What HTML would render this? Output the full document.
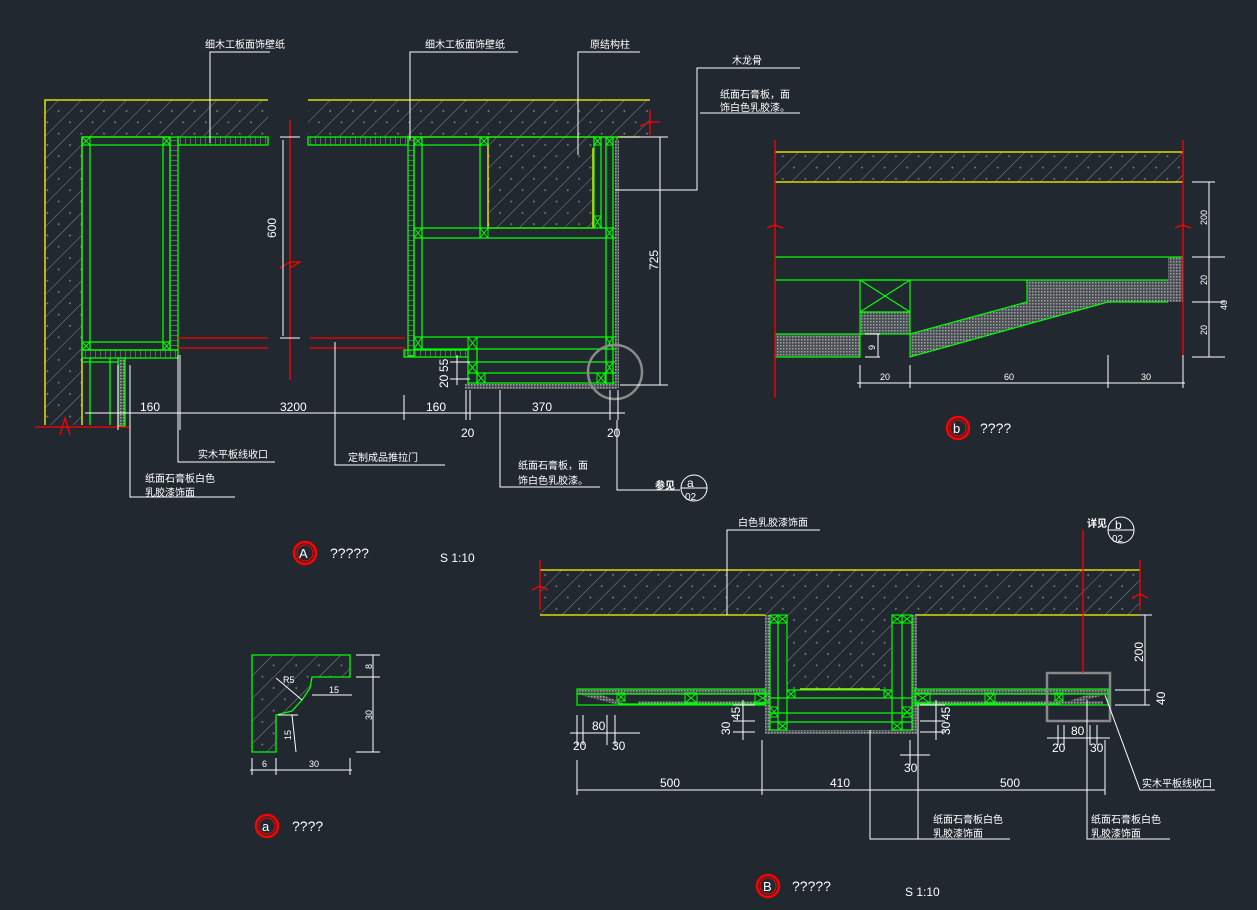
<!DOCTYPE html>
<html><head><meta charset="utf-8"><style>
html,body{margin:0;padding:0;background:#212830;}
svg{display:block}
text{font-family:"Liberation Sans","Noto Sans CJK SC",sans-serif;fill:#fff;}
</style></head><body>
<svg width="1257" height="910" viewBox="0 0 1257 910" xmlns="http://www.w3.org/2000/svg">
<defs>
<pattern id="h" width="16" height="16" patternUnits="userSpaceOnUse" patternTransform="rotate(45)">
<rect width="16" height="16" fill="#212830"/><line x1="0" y1="0" x2="0" y2="16" stroke="#80868d" stroke-width="1"/>
<circle cx="8" cy="5" r="1" fill="#777"/></pattern>
<pattern id="d" width="3" height="3" patternUnits="userSpaceOnUse"><rect width="3" height="3" fill="#4a4f55"/><rect width="1.5" height="1.5" fill="#a0a0a0"/></pattern>
<pattern id="lad" width="5" height="8" patternUnits="userSpaceOnUse"><line x1="0" y1="0" x2="0" y2="8" stroke="#999"/></pattern>
<pattern id="ladv" width="8" height="5" patternUnits="userSpaceOnUse"><line x1="0" y1="0" x2="8" y2="0" stroke="#999"/></pattern>
</defs>
<rect width="1257" height="910" fill="#212830"/>

<!-- ===== Drawing A ===== -->
<rect x="45" y="100" width="223" height="37" fill="url(#h)"/>
<rect x="45" y="100" width="37" height="325" fill="url(#h)"/>
<rect x="308" y="100" width="342" height="37" fill="url(#h)"/>
<rect x="488" y="137" width="105" height="91" fill="url(#h)"/>
<g stroke="#ffff00" fill="none" stroke-width="1.3">
<polyline points="268,100 45,100 45,425"/><line x1="308" y1="100" x2="650" y2="100"/>
<line x1="82" y1="137" x2="82" y2="425"/><line x1="82" y1="137" x2="170" y2="137"/>
<polyline points="488,137 488,228 593,228 593,148"/><line x1="408" y1="137" x2="640" y2="137"/>
</g>
<g fill="none" stroke="#00ff00" stroke-width="1.3">
<rect x="82" y="137" width="88" height="213"/><line x1="90" y1="145" x2="90" y2="350"/><line x1="163" y1="145" x2="163" y2="350"/><line x1="82" y1="145" x2="170" y2="145"/><line x1="82" y1="342" x2="170" y2="342"/>
<rect x="170" y="137" width="8" height="213" fill="url(#ladv)"/>
<rect x="178" y="137" width="90" height="8" fill="url(#lad)"/>
<rect x="308" y="137" width="100" height="8" fill="url(#lad)"/>
<rect x="82" y="350" width="96" height="8" fill="url(#lad)"/>
<line x1="82" y1="362" x2="125" y2="362"/>
<line x1="90" y1="358" x2="90" y2="425"/><line x1="110" y1="358" x2="110" y2="425"/>
<rect x="118" y="358" width="7" height="68" fill="url(#d)"/>
<rect x="408" y="137" width="6" height="219" fill="url(#ladv)"/>
<polyline points="414,356 414,137 617,137 617,387 468,387 468,356"/>
<line x1="422" y1="137" x2="422" y2="349"/><line x1="414" y1="145" x2="488" y2="145"/>
<line x1="480" y1="137" x2="480" y2="238"/>
<line x1="414" y1="228" x2="617" y2="228"/><line x1="414" y1="238" x2="617" y2="238"/>
<line x1="594" y1="137" x2="594" y2="228"/><line x1="601" y1="137" x2="601" y2="228"/>
<line x1="606" y1="137" x2="606" y2="387"/><line x1="613" y1="137" x2="613" y2="387"/>
<line x1="414" y1="337" x2="617" y2="337"/><line x1="414" y1="349" x2="617" y2="349"/>
<line x1="477" y1="349" x2="477" y2="387"/>
<line x1="468" y1="362" x2="617" y2="362"/><line x1="468" y1="373" x2="617" y2="373"/>
<line x1="468" y1="383" x2="617" y2="383"/>
<rect x="404" y="350" width="64" height="7" fill="url(#lad)"/>
</g>
<rect x="615" y="140" width="4" height="248" fill="url(#d)"/>
<rect x="465" y="384" width="152" height="5" fill="url(#d)"/>
<g stroke="#00ff00" stroke-width="1" fill="none">
<path d="M82,137h8v8h-8zM82,137l8,8M90,137l-8,8"/><path d="M163,137h7v8h-7zM163,137l7,8M170,137l-7,8"/>
<path d="M82,342h8v8h-8zM82,342l8,8M90,342l-8,8"/><path d="M163,342h7v8h-7zM163,342l7,8M170,342l-7,8"/>
<path d="M414,137h8v8h-8zM414,137l8,8M422,137l-8,8"/><path d="M480,137h8v8h-8zM480,137l8,8M488,137l-8,8"/>
<path d="M594,137h7v8h-7zM594,137l7,8M601,137l-7,8"/><path d="M606,137h7v8h-7zM606,137l7,8M613,137l-7,8"/>
<path d="M414,228h8v10h-8zM414,228l8,10M422,228l-8,10"/><path d="M480,228h8v10h-8zM480,228l8,10M488,228l-8,10"/>
<path d="M606,228h7v10h-7zM606,228l7,10M613,228l-7,10"/><path d="M594,216h7v12h-7zM594,216l7,12M601,216l-7,12"/>
<path d="M414,337h8v12h-8zM414,337l8,12M422,337l-8,12"/><path d="M468,337h9v12h-9zM468,337l9,12M477,337l-9,12"/>
<path d="M606,337h7v12h-7zM606,337l7,12M613,337l-7,12"/><path d="M468,362h9v11h-9zM468,362l9,11M477,362l-9,11"/>
<path d="M606,362h7v11h-7zM606,362l7,11M613,362l-7,11"/><path d="M477,373h8v10h-8zM477,373l8,10M485,373l-8,10"/>
<path d="M597,373h8v10h-8zM597,373l8,10M605,373l-8,10"/>
</g>
<circle cx="615" cy="372" r="27" fill="none" stroke="#8a8a8a" stroke-width="2.5"/>
<g stroke="#ff0000" stroke-width="1.3" fill="none">
<line x1="178" y1="338" x2="268" y2="338"/><line x1="178" y1="348" x2="268" y2="348"/>
<line x1="310" y1="338" x2="405" y2="338"/><line x1="310" y1="348" x2="405" y2="348"/>
<line x1="290" y1="120" x2="290" y2="380"/><polyline points="280,268 290,262 300,262 290,268"/>
<line x1="35" y1="427" x2="130" y2="427"/><polyline points="60,435 65,418 70,435"/>
<line x1="650" y1="110" x2="650" y2="135"/><polyline points="640,126 650,122 660,122"/>
</g>
<g stroke="#fff" stroke-width="1" fill="none">
<line x1="280" y1="137" x2="300" y2="137"/><line x1="280" y1="338" x2="300" y2="338"/>
<line x1="283" y1="140" x2="283" y2="336"/>
<line x1="620" y1="137" x2="668" y2="137"/><line x1="620" y1="385" x2="668" y2="385"/><line x1="660" y1="137" x2="660" y2="385"/>
<line x1="85" y1="413" x2="625" y2="413"/>
<line x1="118" y1="365" x2="118" y2="430"/><line x1="180" y1="355" x2="180" y2="430"/><line x1="404" y1="395" x2="404" y2="420"/>
<line x1="466" y1="390" x2="466" y2="420"/><line x1="470" y1="390" x2="470" y2="420"/><line x1="610" y1="390" x2="610" y2="420"/><line x1="618" y1="390" x2="618" y2="420"/>
<line x1="450" y1="362" x2="470" y2="362"/><line x1="450" y1="379" x2="470" y2="379"/><line x1="457" y1="355" x2="457" y2="385"/>
<polyline points="210,143 210,52 270,52"/><polyline points="410,140 410,52 518,52"/><polyline points="578,155 578,52 640,52"/>
<polyline points="615,190 697,190 697,68 800,68"/><line x1="700" y1="113" x2="800" y2="113"/>
<polyline points="178,355 178,462 275,462"/><polyline points="335,342 335,465 445,465"/>
<polyline points="130,365 130,497 235,497"/><polyline points="500,390 500,487 600,487"/>
<polyline points="617,420 617,490 680,490"/>
</g>
<g font-size="10">
<text x="205" y="48">细木工板面饰壁纸</text><text x="425" y="48">细木工板面饰壁纸</text><text x="590" y="48">原结构柱</text>
<text x="732" y="64">木龙骨</text><text x="720" y="98">纸面石膏板，面</text><text x="720" y="111">饰白色乳胶漆。</text>
<text x="198" y="458">实木平板线收口</text><text x="348" y="461">定制成品推拉门</text>
<text x="145" y="482">纸面石膏板白色</text><text x="145" y="496">乳胶漆饰面</text>
<text x="518" y="469">纸面石膏板，面</text><text x="518" y="484">饰白色乳胶漆。</text>
<text x="655" y="489" font-weight="bold">参见</text>
</g>
<g font-size="12">
<text x="140" y="411">160</text><text x="280" y="411">3200</text><text x="426" y="411">160</text><text x="532" y="411">370</text>
<text x="461" y="437">20</text><text x="607" y="437">20</text>
<text transform="translate(276,238) rotate(-90)">600</text><text transform="translate(658,270) rotate(-90)">725</text>
<text transform="translate(448,388) rotate(-90)">20</text><text transform="translate(448,372) rotate(-90)">55</text>
</g>
<ellipse cx="694" cy="488" rx="13" ry="13" fill="none" stroke="#fff"/><line x1="681" y1="488" x2="707" y2="488" stroke="#fff"/>
<text x="687" y="487" font-size="12">a</text><text x="685" y="500" font-size="10">02</text>

<g><circle cx="305" cy="553" r="11" fill="none" stroke="#ff0000" stroke-width="2.5"/><circle cx="305" cy="553" r="8" fill="none" stroke="#ff0000"/>
<text x="299" y="558" font-size="13">A</text><text x="330" y="558" font-size="14">?????</text><text x="440" y="562" font-size="12" font-family="Liberation Serif">S 1:10</text></g>

<!-- ===== Drawing b ===== -->
<rect x="775" y="152" width="408" height="30" fill="url(#h)"/>
<g stroke="#ffff00" stroke-width="1.3"><line x1="775" y1="152" x2="1183" y2="152"/><line x1="775" y1="182" x2="1183" y2="182"/></g>
<rect x="1168" y="257" width="15" height="45" fill="url(#d)"/>
<polygon points="1027,280 1168,280 1168,302 1108,302 910,357 910,334 1027,302" fill="url(#d)"/>
<rect x="860" y="312" width="50" height="22" fill="url(#d)"/>
<rect x="775" y="334" width="85" height="23" fill="url(#d)"/>
<g stroke="#00ff00" stroke-width="1.2" fill="none">
<line x1="775" y1="257" x2="1183" y2="257"/><line x1="775" y1="280" x2="1168" y2="280"/>
<rect x="860" y="280" width="50" height="54"/><line x1="860" y1="312" x2="910" y2="312"/>
<line x1="860" y1="280" x2="910" y2="312"/><line x1="910" y1="280" x2="860" y2="312"/>
<polyline points="775,334 860,334 860,357 775,357"/>
<polyline points="1027,280 1027,302 910,334 910,357 1108,302 1168,302"/>
</g>
<g stroke="#ff0000" stroke-width="1.3" fill="none">
<line x1="775" y1="140" x2="775" y2="398"/><polyline points="767,228 775,225 783,228"/>
<line x1="1183" y1="140" x2="1183" y2="355"/><polyline points="1175,228 1183,225 1191,228"/>
</g>
<g stroke="#fff" stroke-width="1" fill="none">
<line x1="1192" y1="182" x2="1215" y2="182"/><line x1="1192" y1="257" x2="1225" y2="257"/><line x1="1192" y1="302" x2="1225" y2="302"/><line x1="1192" y1="357" x2="1225" y2="357"/>
<line x1="1209" y1="182" x2="1209" y2="357"/>
<line x1="857" y1="383" x2="1185" y2="383"/>
<line x1="860" y1="365" x2="860" y2="388"/><line x1="910" y1="365" x2="910" y2="388"/><line x1="1108" y1="355" x2="1108" y2="388"/><line x1="1183" y1="355" x2="1183" y2="388"/>
<line x1="865" y1="334" x2="880" y2="334"/><line x1="865" y1="357" x2="880" y2="357"/><line x1="878" y1="334" x2="878" y2="357"/>
</g>
<g font-size="9">
<text transform="translate(1207,225) rotate(-90)">200</text><text transform="translate(1207,285) rotate(-90)">20</text><text transform="translate(1207,335) rotate(-90)">20</text><text transform="translate(1227,310) rotate(-90)">40</text>
<text transform="translate(875,350) rotate(-90)">9</text>
<text x="880" y="380">20</text><text x="1004" y="380">60</text><text x="1141" y="380">30</text>
</g>
<circle cx="958" cy="428" r="11" fill="none" stroke="#ff0000" stroke-width="2.5"/><circle cx="958" cy="428" r="8" fill="none" stroke="#ff0000"/>
<text x="953" y="433" font-size="13">b</text><text x="980" y="433" font-size="14">????</text>

<!-- ===== Drawing a ===== -->
<polygon points="252,655 350,655 350,677 312,677 310,688 302,700 292,711 276,715 276,752 252,752" fill="url(#h)" stroke="#00ff00" stroke-width="1.3"/>
<g stroke="#fff" stroke-width="1" fill="none">
<line x1="356" y1="655" x2="380" y2="655"/><line x1="356" y1="677" x2="380" y2="677"/><line x1="356" y1="752" x2="380" y2="752"/><line x1="373" y1="655" x2="373" y2="752"/>
<line x1="312" y1="695" x2="352" y2="695"/><line x1="292" y1="715" x2="296" y2="752"/><line x1="278" y1="715" x2="298" y2="715"/>
<line x1="250" y1="770" x2="352" y2="770"/><line x1="252" y1="758" x2="252" y2="775"/><line x1="276" y1="758" x2="276" y2="775"/><line x1="350" y1="758" x2="350" y2="775"/>
<line x1="276" y1="678" x2="302" y2="700"/>
</g>
<g font-size="9"><text x="329" y="693">15</text><text transform="translate(372,669) rotate(-90)">8</text><text transform="translate(372,720) rotate(-90)">30</text>
<text transform="translate(291,740) rotate(-90)">15</text><text x="262" y="767">6</text><text x="309" y="767">30</text><text x="283" y="683">R5</text></g>
<circle cx="267" cy="826" r="11" fill="none" stroke="#ff0000" stroke-width="2.5"/><circle cx="267" cy="826" r="8" fill="none" stroke="#ff0000"/>
<text x="262" y="831" font-size="13">a</text><text x="292" y="831" font-size="14">????</text>

<!-- ===== Drawing B ===== -->
<rect x="540" y="570" width="600" height="45" fill="url(#h)"/>
<rect x="787" y="615" width="105" height="75" fill="url(#h)"/>
<g stroke="#ffff00" stroke-width="1.3"><line x1="540" y1="570" x2="1140" y2="570"/><line x1="540" y1="615" x2="765" y2="615"/><line x1="915" y1="615" x2="1140" y2="615"/><line x1="800" y1="689" x2="880" y2="689"/></g>
<rect x="765" y="615" width="5" height="115" fill="url(#d)"/><rect x="912" y="615" width="5" height="115" fill="url(#d)"/>
<rect x="577" y="689" width="188" height="5" fill="url(#d)"/><rect x="915" y="689" width="193" height="5" fill="url(#d)"/>
<rect x="638" y="701" width="127" height="4" fill="url(#d)"/><rect x="918" y="701" width="185" height="4" fill="url(#d)"/>
<polygon points="577,694 600,694 625,704 615,704" fill="url(#d)"/><polygon points="1108,694 1090,694 1060,704 1070,704" fill="url(#d)"/>
<rect x="765" y="730" width="153" height="4" fill="url(#d)"/>
<g stroke="#00ff00" stroke-width="1.2" fill="none">
<rect x="770" y="615" width="17" height="115"/><line x1="778" y1="615" x2="778" y2="730"/>
<rect x="892" y="615" width="20" height="115"/><line x1="902" y1="615" x2="902" y2="730"/>
<line x1="787" y1="690" x2="892" y2="690"/><line x1="770" y1="698" x2="912" y2="698"/>
<line x1="770" y1="713" x2="912" y2="713"/><line x1="770" y1="722" x2="912" y2="722"/>
<line x1="577" y1="694" x2="765" y2="694"/><line x1="618" y1="704" x2="765" y2="704"/>
<line x1="915" y1="694" x2="1108" y2="694"/><line x1="915" y1="704" x2="1060" y2="704"/>
<rect x="577" y="689" width="188" height="16"/><rect x="915" y="689" width="193" height="16"/>
</g>
<g stroke="#00ff00" stroke-width="1" fill="none">
<path d="M770,615h8v8h-8zM770,615l8,8M778,615l-8,8"/><path d="M778,615h9v8h-9zM778,615l9,8M787,615l-9,8"/>
<path d="M892,615h10v8h-10zM892,615l10,8M902,615l-10,8"/><path d="M902,615h10v8h-10zM902,615l10,8M912,615l-10,8"/>
<path d="M755,693h15v10h-15zM755,693l15,10M770,693l-15,10"/><path d="M787,690h8v8h-8zM787,690l8,8M795,690l-8,8"/>
<path d="M884,690h8v8h-8zM884,690l8,8M892,690l-8,8"/><path d="M915,693h15v10h-15zM915,693l15,10M930,693l-15,10"/>
<path d="M685,693h12v10h-12zM685,693l12,10M697,693l-12,10"/><path d="M985,693h10v10h-10zM985,693l10,10M995,693l-10,10"/>
<path d="M617,693h8v8h-8zM617,693l8,8M625,693l-8,8"/><path d="M1055,693h8v8h-8zM1055,693l8,8M1063,693l-8,8"/>
<path d="M770,707h8v10h-8zM770,707l8,10M778,707l-8,10"/><path d="M778,722h9v8h-9zM778,722l9,8M787,722l-9,8"/>
<path d="M902,707h10v10h-10zM902,707l10,10M912,707l-10,10"/><path d="M892,722h10v8h-10zM892,722l10,8M902,722l-10,8"/>
</g>
<rect x="1047" y="673" width="63" height="48" fill="none" stroke="#8a8a8a" stroke-width="2.5"/>
<g stroke="#ff0000" stroke-width="1.3" fill="none">
<line x1="540" y1="560" x2="540" y2="610"/><polyline points="532,590 540,586 548,590"/>
<line x1="1140" y1="560" x2="1140" y2="610"/><polyline points="1132,598 1140,594 1148,598"/>
<line x1="1083" y1="530" x2="1083" y2="673"/>
</g>
<g stroke="#fff" stroke-width="1" fill="none">
<polyline points="727,615 727,530 820,530"/>
<line x1="1115" y1="690" x2="1150" y2="690"/><line x1="1115" y1="705" x2="1150" y2="705"/><line x1="1140" y1="615" x2="1152" y2="615"/><line x1="1145" y1="615" x2="1145" y2="705"/>
<line x1="577" y1="790" x2="1105" y2="790"/>
<line x1="577" y1="760" x2="577" y2="795"/><line x1="762" y1="740" x2="762" y2="795"/><line x1="918" y1="740" x2="918" y2="795"/><line x1="1105" y1="740" x2="1105" y2="795"/>
<line x1="570" y1="733" x2="640" y2="733"/><line x1="577" y1="715" x2="577" y2="745"/><line x1="583" y1="715" x2="583" y2="745"/><line x1="607" y1="715" x2="607" y2="745"/><line x1="615" y1="715" x2="615" y2="745"/>
<line x1="1047" y1="738" x2="1110" y2="738"/><line x1="1058" y1="725" x2="1058" y2="745"/><line x1="1064" y1="725" x2="1064" y2="745"/><line x1="1090" y1="725" x2="1090" y2="745"/><line x1="1097" y1="725" x2="1097" y2="745"/>
<line x1="733" y1="705" x2="755" y2="705"/><line x1="733" y1="721" x2="755" y2="721"/><line x1="733" y1="732" x2="755" y2="732"/><line x1="743" y1="700" x2="743" y2="740"/>
<line x1="920" y1="705" x2="945" y2="705"/><line x1="920" y1="721" x2="945" y2="721"/><line x1="920" y1="732" x2="945" y2="732"/><line x1="936" y1="700" x2="936" y2="740"/>
<line x1="900" y1="755" x2="930" y2="755"/><line x1="910" y1="740" x2="910" y2="765"/>
<polyline points="870,730 870,839 1010,839"/><polyline points="918,705 918,839"/>
<polyline points="1087,700 1087,839 1170,839"/>
<polyline points="1105,695 1140,790 1215,790"/>
</g>
<g font-size="10">
<text x="738" y="526">白色乳胶漆饰面</text><text x="1087" y="527" font-weight="bold">详见</text>
<text x="933" y="823">纸面石膏板白色</text><text x="933" y="837">乳胶漆饰面</text>
<text x="1091" y="823">纸面石膏板白色</text><text x="1091" y="837">乳胶漆饰面</text>
<text x="1142" y="787">实木平板线收口</text>
</g>
<g font-size="12">
<text x="660" y="787">500</text><text x="830" y="787">410</text><text x="1000" y="787">500</text>
<text x="592" y="730">80</text><text x="573" y="750">20</text><text x="612" y="750">30</text>
<text x="1071" y="735">80</text><text x="1052" y="752">20</text><text x="1090" y="752">30</text>
<text x="904" y="772">30</text>
<text transform="translate(740,720) rotate(-90)">45</text><text transform="translate(730,735) rotate(-90)">30</text>
<text transform="translate(950,720) rotate(-90)">45</text><text transform="translate(950,735) rotate(-90)">30</text>
<text transform="translate(1143,662) rotate(-90)">200</text><text transform="translate(1165,705) rotate(-90)">40</text>
</g>
<ellipse cx="1121" cy="530" rx="13" ry="13" fill="none" stroke="#fff"/><line x1="1108" y1="530" x2="1134" y2="530" stroke="#fff"/>
<text x="1115" y="529" font-size="12">b</text><text x="1112" y="542" font-size="10">02</text>
<circle cx="768" cy="886" r="11" fill="none" stroke="#ff0000" stroke-width="2.5"/><circle cx="768" cy="886" r="8" fill="none" stroke="#ff0000"/>
<text x="763" y="891" font-size="13">B</text><text x="792" y="891" font-size="14">?????</text><text x="905" y="896" font-size="12" font-family="Liberation Serif">S 1:10</text>
</svg>
</body></html>
